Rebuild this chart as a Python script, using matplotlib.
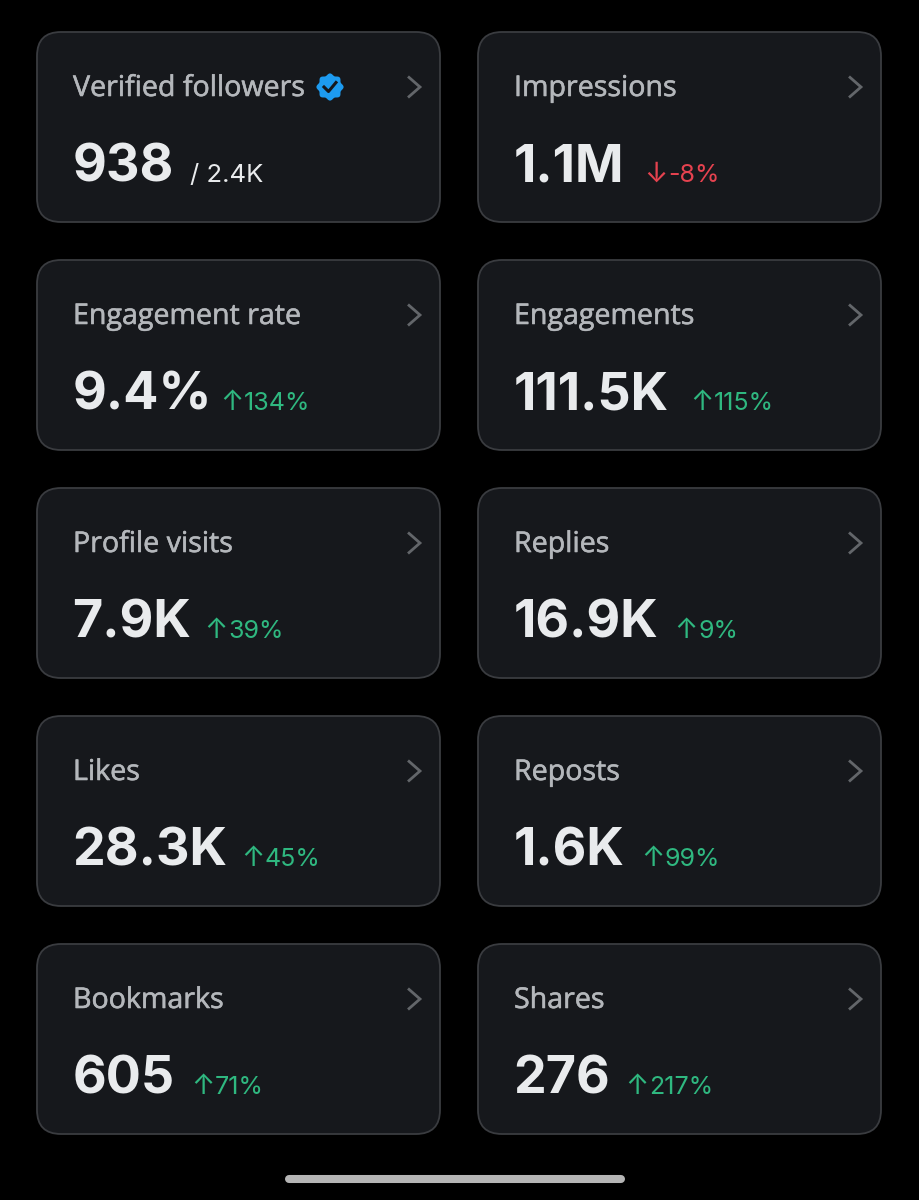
import numpy as np
import matplotlib
matplotlib.use("Agg")
import matplotlib.pyplot as plt
import matplotlib.patheffects as pe
from matplotlib.patches import FancyBboxPatch, Polygon

# card contents, left to right then top to bottom
titles = ["Verified followers", "Impressions", "Engagement rate", "Engagements", "Profile visits",
          "Replies", "Likes", "Reposts", "Bookmarks", "Shares"]
values = ["938", "1.1M", "9.4%", "111.5K", "7.9K", "16.9K", "28.3K", "1.6K", "605", "276"]
deltas = ["/ 2.4K", "-8%", "134%", "115%", "39%", "9%", "45%", "99%", "71%", "217%"]
arrows = ["", "↓", "↑", "↑", "↑", "↑", "↑", "↑", "↑", "↑"]

# where the delta starts in each card, the fonts here don't have the same widths
delta_x = [190, 644, 220, 690, 204, 674, 241, 641, 191, 625]

BG = "#000000"
CARD = "#16181c"
EDGE = "#3a3c40"
TITLE = "#b4b7bb"
VALUE = "#e9ebed"
GREEN = "#2fb880"
RED = "#e5424f"
CHEVRON = "#63666a"

W, H = 919, 1200
fig = plt.figure(figsize=(W / 100, H / 100), dpi=100, facecolor=BG)
ax = fig.add_axes([0, 0, 1, 1])
ax.set_xlim(0, W)
ax.set_ylim(H, 0)
ax.axis("off")

card_x = [37, 478]
card_y = [32, 260, 488, 716, 944]
card_w, card_h = 403, 190

for i, title in enumerate(titles):
    x0 = card_x[i % 2]
    y0 = card_y[i // 2]
    ax.add_patch(FancyBboxPatch((x0 + 22, y0 + 22), card_w - 44, card_h - 44,
                                boxstyle="round,pad=22,rounding_size=24",
                                fc=CARD, ec=EDGE, lw=1.3))
    ax.text(x0 + 36, y0 + 53, title, color=TITLE, fontsize=20.6, family="Open Sans",
            va="center_baseline", ha="left",
            path_effects=[pe.withStroke(linewidth=0.4, foreground=TITLE)])
    ax.text(x0 + 35.5, y0 + 149, values[i], color=VALUE, fontsize=37.5, family="Inter",
            fontweight="bold", va="baseline", ha="left")
    # chevron
    cx = x0 + 371
    cy = y0 + 55
    ax.plot([cx, cx + 12, cx], [cy - 10.5, cy, cy + 10.5], color=CHEVRON, lw=2.0,
            solid_joinstyle="miter", solid_capstyle="butt")

    if i == 0:
        ax.text(delta_x[i], y0 + 150, deltas[i], color=VALUE, fontsize=18.5, family="Inter",
                va="baseline", ha="left")
        # verified badge next to the title
        bx = x0 + 293
        by = y0 + 55
        ang = np.linspace(0, 2 * np.pi, 121)
        rad = 12.6 + 1.0 * np.cos(8 * ang)
        ax.add_patch(Polygon(np.c_[bx + rad * np.cos(ang), by + rad * np.sin(ang)], fc="#1d9bf0", ec="none"))
        ax.plot([bx - 6, bx - 1.5, bx + 6], [by, by + 4.5, by - 4.5], color="#16181c", lw=2.2)
    else:
        color = RED if deltas[i].startswith("-") else GREEN
        ax.text(delta_x[i], y0 + 150, arrows[i], color=color, fontsize=20, family="Inter",
                va="baseline", ha="left")
        ax.text(delta_x[i] + 24, y0 + 150, deltas[i], color=color, fontsize=18, family="Inter",
                va="baseline", ha="left")

# gesture bar at the bottom of the screen
ax.plot([289, 621], [1179, 1179], color="#b5b5b5", lw=5.8, solid_capstyle="round")

fig.savefig("out.png", dpi=100, facecolor=BG)
